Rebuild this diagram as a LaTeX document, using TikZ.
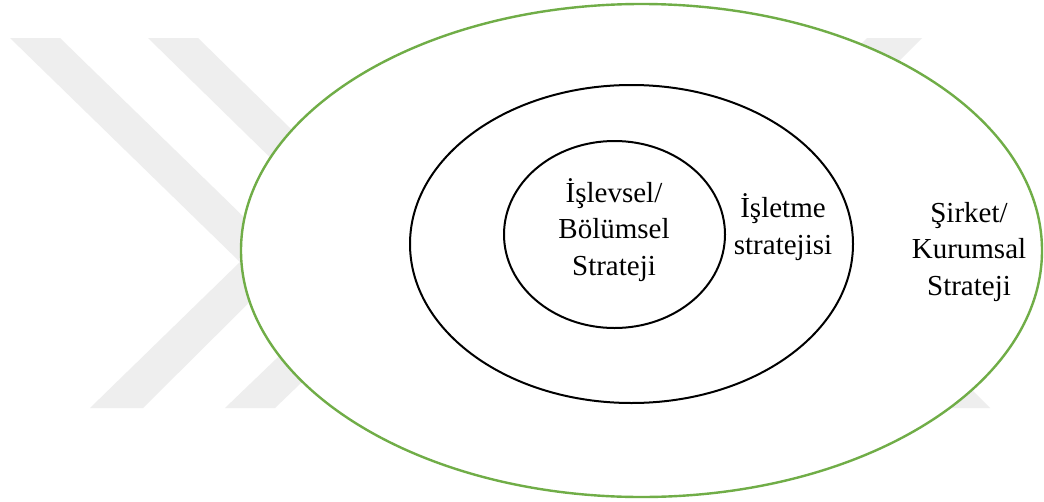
\documentclass[tikz,border=0pt]{standalone}
\usepackage{fontspec}
\setmainfont{Liberation Serif}
\usetikzlibrary{shapes.geometric}
\definecolor{ringgreen}{HTML}{70AD47}
\definecolor{markgray}{HTML}{EEEEEE}
\begin{document}
\begin{tikzpicture}[x=1pt,y=-1pt,
  wmark/.style={fill=markgray,draw=none},
  ring/.style={ellipse,draw=black,line width=2pt,inner sep=0pt},
  outerring/.style={ellipse,draw=ringgreen,fill=white,line width=2.4pt,inner sep=0pt},
  lvl/.style={align=center,anchor=base,inner sep=0pt,
    font=\fontsize{29}{36.5}\selectfont}]
\useasboundingbox (0,0) rectangle (1044,501);
\fill[white] (0,0) rectangle (1044,501);
% background chevrons
\fill[wmark] (10,38) -- (60,38) -- (290,262) -- (143,408) -- (90,408) -- (240,262) -- cycle;
\fill[wmark] (148,38) -- (198,38) -- (427,262) -- (275,408) -- (225,408) -- (377,262) -- cycle;
\fill[wmark] (867,38) -- (922,38) -- (800,160) -- (745,160) -- cycle;
\fill[wmark] (940,408) -- (990,408) -- (900,318) -- (850,318) -- cycle;
% nested strategy levels
\node[outerring,minimum width=801pt,minimum height=493pt] (corp) at (641.5,250.5) {};
\node[ring,minimum width=443pt,minimum height=318pt] (bus) at (631.5,244) {};
\node[ring,minimum width=221pt,minimum height=187pt] (func) at (614.5,234.5) {};
% labels (anchored on the baseline of their last line)
\node[lvl] (funcl) at (614,275) {İşlevsel/\\Bölümsel\\Strateji};
\node[lvl] (busl) at (783,254) {İşletme\\stratejisi};
\node[lvl] (corpl) at (969,295) {Şirket/\\Kurumsal\\Strateji};
\end{tikzpicture}
\end{document}
